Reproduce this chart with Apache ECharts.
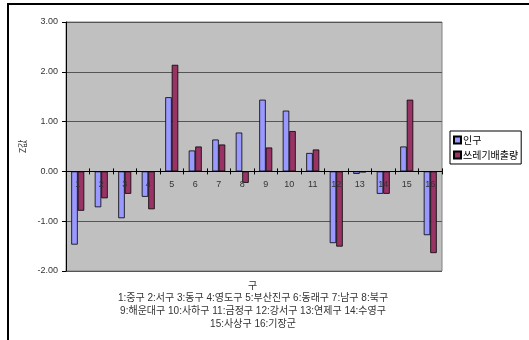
<!DOCTYPE html>
<html>
<head>
<meta charset="utf-8">
<script src="https://cdn.jsdelivr.net/npm/echarts@6/dist/echarts.min.js"></script>
<style>
  html, body { margin: 0; padding: 0; background: #fff; }
  #chart { width: 529px; height: 340px; }
</style>
</head>
<body>
<div id="chart"></div>
<script>
// District numbers shown on the category axis
const categories = ['1','2','3','4','5','6','7','8','9','10','11','12','13','14','15','16'];
// District names for the key lines under the axis
const districtNames = ['중구','서구','동구','영도구','부산진구','동래구','남구','북구',
  '해운대구','사하구','금정구','강서구','연제구','수영구','사상구','기장군'];
// Standardised (Z) values per district
const population = [-1.47,-0.72,-0.94,-0.51,1.49,0.42,0.64,0.78,1.44,1.22,0.37,-1.44,-0.05,-0.45,0.50,-1.28];
const waste      = [-0.79,-0.54,-0.45,-0.76,2.14,0.50,0.54,-0.23,0.48,0.81,0.44,-1.51,-0.02,-0.45,1.44,-1.64];
const seriesNames = ['인구','쓰레기배출량'];
const yTicks = { min: -2, max: 3, step: 1 };

const fontLatin = 'Liberation Sans, Arial, "Noto Sans CJK KR", sans-serif';

const label = (a, b) => districtNames.slice(a, b).map((n, i) => (a + i + 1) + ':' + n).join(' ');
const lines = [label(0, 8), label(8, 14), label(14, 16)];

const gridTop = 22, gridBottom = 69, chartH = 340;
const plotH = chartH - gridTop - gridBottom;
// shift the category axis up so it sits on the zero line
const zeroOffset = -plotH * (0 - yTicks.min) / (yTicks.max - yTicks.min);

const chart = echarts.init(document.getElementById('chart'), null, { renderer: 'canvas' });
chart.setOption({
  animation: false,
  backgroundColor: '#ffffff',
  grid: {
    left: 66, top: gridTop, right: 87, bottom: gridBottom,
    show: true, backgroundColor: '#c0c0c0', borderColor: '#808080', borderWidth: 1
  },
  legend: {
    orient: 'vertical',
    left: 450, top: 131,
    data: seriesNames,
    icon: 'rect',
    itemWidth: 7, itemHeight: 7, itemGap: 5,
    padding: [4, 3, 4, 3],
    borderColor: '#000', borderWidth: 1,
    backgroundColor: '#fff',
    textStyle: { fontSize: 10, color: '#000', fontFamily: '"Noto Sans CJK KR", sans-serif', padding: [0, 0, 0, -3] }
  },
  xAxis: [{
    type: 'category',
    data: categories,
    position: 'bottom',
    offset: zeroOffset,
    z: 5,
    axisLine: { onZero: false, lineStyle: { color: '#000', width: 1 } },
    axisTick: { show: true, length: 3, lineStyle: { color: '#000' } },
    axisLabel: { fontSize: 9, color: '#333', margin: 9, fontFamily: fontLatin },
    splitLine: { show: false }
  }, {
    // upper half of the crossing tick marks
    type: 'category',
    data: categories,
    position: 'bottom',
    offset: zeroOffset,
    z: 5,
    axisLine: { show: false, onZero: false },
    axisTick: { show: true, inside: true, length: 3, lineStyle: { color: '#000' } },
    axisLabel: { show: false },
    splitLine: { show: false }
  }],
  yAxis: {
    type: 'value',
    min: yTicks.min, max: yTicks.max, interval: yTicks.step,
    name: 'Z값',
    nameLocation: 'middle',
    nameGap: 31,
    nameTextStyle: { fontSize: 9, color: '#333', fontFamily: '"Noto Sans CJK KR", sans-serif' },
    axisLine: { show: true, lineStyle: { color: '#000', width: 1 } },
    axisTick: { show: true, length: 4, lineStyle: { color: '#000' } },
    axisLabel: { fontSize: 9, color: '#333', margin: 8, fontFamily: fontLatin,
      formatter: v => v.toFixed(2) },
    splitLine: { show: true, lineStyle: { color: '#555', width: 1 } }
  },
  series: [
    { name: seriesNames[0], type: 'bar', data: population, barWidth: 6.5, barGap: '0%',
      itemStyle: { color: '#9999ff', borderColor: '#000', borderWidth: 0.8 } },
    { name: seriesNames[1], type: 'bar', data: waste, barWidth: 6.5, barGap: '0%',
      itemStyle: { color: '#993366', borderColor: '#000', borderWidth: 0.8 } }
  ],
  graphic: [
    { type: 'rect', shape: { x: 8, y: 4, width: 600, height: 400 }, silent: true, z: -1,
      style: { fill: 'none', stroke: '#000', lineWidth: 2 } },
    { type: 'text', left: 248, top: 280,
      style: { text: '구', fontSize: 10, fill: '#333', fontFamily: '"Noto Sans CJK KR", sans-serif' } },
    { type: 'text', x: 253, y: 292,
      style: { text: lines.join('\n'), fontSize: 10, lineHeight: 12.8, fill: '#333', align: 'center',
        fontFamily: 'Liberation Sans, "Noto Sans CJK KR", sans-serif' } }
  ]
});
</script>
</body>
</html>
